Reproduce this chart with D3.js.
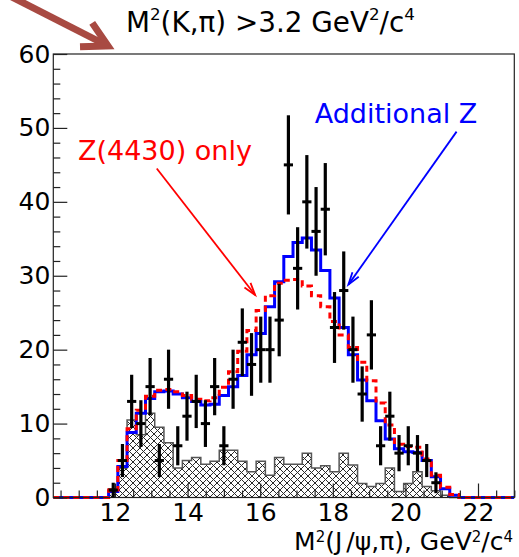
<!DOCTYPE html>
<html><head><meta charset="utf-8">
<script src="https://cdn.jsdelivr.net/npm/d3@7"></script>
<style>
body{margin:0;background:#fff}
svg{display:block;font-family:"DejaVu Sans",sans-serif}
</style>
</head><body>
<svg id="chart" width="519" height="557"></svg>
<script>
// Binning of M^2(J/psi,pi): 50 bins from 10.3 to 23.0 GeV^2/c^4
const xMin = 10.3, xMax = 23.0, nBins = 50;

// Observed events per bin
const dataCounts = [0,0,0,0,0,0,1,5,13,10,15,5,16,7,11,13,10,15,7,16,21,18,20,20,24,45,31,40,36,39,23,28,20,14,22,7,11,6,7,6,5,2,0,0,0,0,0,0,0,0];

// Fit with an additional Z state (blue, solid)
const fitAdditionalZ = [0,0,0,0,0,0,0.8,4.2,8.8,11.4,13.4,14.3,14.4,14.0,13.5,13.0,12.5,12.6,13.8,15.0,16.5,19.3,22.2,25.8,29.2,32.6,34.5,35.1,33.5,30.7,27.0,23.0,19.3,15.9,13.1,10.4,7.9,6.6,6.2,6.1,5.0,2.8,1.2,0.3,0,0,0,0,0,0];

// Fit with Z(4430) only (red, dashed)
const fitZ4430Only = [0,0,0,0,0,0,1.0,5.0,9.3,11.8,13.7,14.5,14.6,14.3,13.8,13.3,13.1,13.5,14.9,17.0,19.8,22.6,25.3,27.3,29.0,29.4,29.5,28.6,27.3,25.8,23.8,22.0,20.3,18.3,15.8,12.8,9.8,7.2,6.9,6.8,5.2,3.0,1.4,0.4,0,0,0,0,0,0];

// Background estimate (hatched)
const background = [0,0,0,0,0,0,1.2,4.0,10.5,8.5,11.4,9.5,7.4,4.0,5.0,5.4,4.5,4.9,6.4,6.4,4.9,3.5,4.9,3.0,5.4,4.5,4.5,6.0,4.0,4.3,3.5,6.0,4.4,1.9,1.5,1.9,4.0,0.8,1.9,3.5,1.5,0.9,0.3,0,0,0,0,0,0,0];

const xMajorTicks = [12,14,16,18,20,22];
const yMajorTicks = [0,10,20,30,40,50,60];

const svg = d3.select("#chart");
const frame = {left: 53.3, right: 514.3, top: 54, bottom: 497.5};
const x = d3.scaleLinear([xMin, xMax], [frame.left, frame.right]);
const y = d3.scaleLinear([0, 60], [frame.bottom, frame.top]);
const binW = (xMax - xMin) / nBins;
const edge = k => xMin + k * binW;

// cross-hatch pattern for the background histogram
const defs = svg.append("defs");
const pat = defs.append("pattern").attr("id", "xhatch")
  .attr("patternUnits", "userSpaceOnUse").attr("width", 7).attr("height", 7);
pat.append("rect").attr("width", 7).attr("height", 7).attr("fill", "#fff");
pat.append("path").attr("d", "M0,0L7,7M0,7L7,0M-1,1L1,-1M6,8L8,6M-1,6L1,8M6,-1L8,1")
  .attr("stroke", "#2a2a2a").attr("stroke-width", 1);

// step outline points of a histogram
const steps = vals => vals.flatMap((v, k) => [[edge(k), v], [edge(k + 1), v]]);

const clip = defs.append("clipPath").attr("id", "plotclip");
clip.append("rect").attr("x", frame.left).attr("y", frame.top - 2)
  .attr("width", frame.right - frame.left).attr("height", frame.bottom - frame.top + 4);

const plot = svg.append("g").attr("clip-path", "url(#plotclip)");

// background histogram
plot.append("path")
  .datum(steps(background))
  .attr("d", d3.area().x(d => x(d[0])).y0(y(0)).y1(d => y(d[1])))
  .attr("fill", "url(#xhatch)");
plot.append("path")
  .datum(steps(background))
  .attr("d", d3.line().x(d => x(d[0])).y(d => y(d[1])))
  .attr("fill", "none").attr("stroke", "#555").attr("stroke-width", 1.5);

// frame
svg.append("rect")
  .attr("x", frame.left).attr("y", frame.top)
  .attr("width", frame.right - frame.left).attr("height", frame.bottom - frame.top)
  .attr("fill", "none").attr("stroke", "#222").attr("stroke-width", 1.2);

// axes with inward ticks
const yAxis = d3.axisLeft(y).tickValues(yMajorTicks).tickSize(-14).tickSizeOuter(0).tickPadding(3).tickFormat(d3.format("d"));
const yMinor = d3.axisLeft(y).tickValues(d3.range(0, 61, 2).filter(v => v % 10)).tickSize(-7).tickSizeOuter(0).tickFormat("");
const xAxis = d3.axisBottom(x).tickValues(xMajorTicks).tickSize(-14).tickSizeOuter(0).tickPadding(6).tickFormat(d3.format("d"));
const xMinor = d3.axisBottom(x).tickValues(d3.range(10.5, 23.01, 0.5).filter(v => !xMajorTicks.includes(v))).tickSize(-7).tickSizeOuter(0).tickFormat("");

function styleAxis(g) {
  g.select(".domain").remove();
  g.selectAll(".tick line").attr("stroke", "#222").attr("stroke-width", 1.2);
  g.selectAll(".tick text").attr("font-size", 25).attr("fill", "#000")
    .attr("font-family", "DejaVu Sans");
}
svg.append("g").attr("transform", `translate(${frame.left},0)`).call(yAxis).call(styleAxis);
svg.append("g").attr("transform", `translate(${frame.left},0)`).call(yMinor).call(styleAxis);
svg.append("g").attr("transform", `translate(0,${frame.bottom})`).call(xAxis).call(styleAxis);
svg.append("g").attr("transform", `translate(0,${frame.bottom})`).call(xMinor).call(styleAxis);

// fit curves
const stepLine = d3.line().x(d => x(d[0])).y(d => y(d[1]));
plot.append("path").datum(steps(fitAdditionalZ)).attr("d", stepLine)
  .attr("fill", "none").attr("stroke", "#0000ff").attr("stroke-width", 3);
plot.append("path").datum(steps(fitZ4430Only)).attr("d", stepLine)
  .attr("fill", "none").attr("stroke", "#ff0000").attr("stroke-width", 3)
  .attr("stroke-dasharray", "6,4");

// data points with Poisson error bars
const pts = dataCounts.map((n, k) => ({k, n})).filter(d => d.n > 0);
const gPts = svg.append("g").attr("stroke", "#000");
gPts.selectAll("line.v").data(pts).join("line").attr("class", "v")
  .attr("x1", d => x(edge(d.k) + binW / 2)).attr("x2", d => x(edge(d.k) + binW / 2))
  .attr("y1", d => y(d.n - Math.sqrt(d.n))).attr("y2", d => y(d.n + Math.sqrt(d.n)))
  .attr("stroke-width", 3.2);
gPts.selectAll("line.h").data(pts).join("line").attr("class", "h")
  .attr("x1", d => x(edge(d.k))).attr("x2", d => x(edge(d.k + 1)))
  .attr("y1", d => y(d.n)).attr("y2", d => y(d.n))
  .attr("stroke-width", 3);

// labelled arrows
function arrow(g, x1, y1, x2, y2, color, width, headLen, headAng) {
  const a = Math.atan2(y1 - y2, x1 - x2);
  g.append("line").attr("x1", x1).attr("y1", y1).attr("x2", x2).attr("y2", y2)
    .attr("stroke", color).attr("stroke-width", width);
  g.append("path")
    .attr("d", `M${x2 + headLen * Math.cos(a + headAng)},${y2 + headLen * Math.sin(a + headAng)}L${x2},${y2}L${x2 + headLen * Math.cos(a - headAng)},${y2 + headLen * Math.sin(a - headAng)}`)
    .attr("fill", "none").attr("stroke", color).attr("stroke-width", width)
    .attr("stroke-linejoin", "miter");
}
const ann = svg.append("g");
ann.append("text").attr("x", x(10.98)).attr("y", y(45.7)).attr("fill", "#ff0000")
  .attr("font-size", 27).text("Z(4430) only");
arrow(ann, x(13.15), y(44.5), x(15.86), y(27.4), "#ff0000", 1.8, 13, 0.3);
ann.append("text").attr("x", x(17.5)).attr("y", y(50.7)).attr("fill", "#0000ff")
  .attr("font-size", 27).text("Additional Z");
arrow(ann, x(21.41), y(49.5), x(18.43), y(28.8), "#0000ff", 1.8, 13, 0.3);

// pointer arrow at the top-left corner
arrow(svg.append("g"), 6, -6, 108, 46, "#a84a42", 7, 28, 0.5);

// titles
function supText(t, parts, fs, raise) {
  parts.forEach(p => {
    if (p.sup) t.append("tspan").attr("font-size", fs * 0.6).attr("dy", -fs * raise).text(p.s);
    else t.append("tspan").attr("font-size", fs).attr("dy", p.back ? fs * raise : 0).attr("dx", p.dx || 0).text(p.s);
  });
}
const title = svg.append("text").attr("x", 126).attr("y", 32).attr("fill", "#000");
supText(title, [
  {s: "M"}, {s: "2", sup: true}, {s: "(K,\u03c0) >3.2 GeV", back: true},
  {s: "2", sup: true}, {s: "/c", back: true}, {s: "4", sup: true}
], 27.8, 0.42);

const xt = svg.append("text").attr("x", 513).attr("y", 550).attr("text-anchor", "end").attr("fill", "#000");
supText(xt, [
  {s: "M"}, {s: "2", sup: true}, {s: "(J", back: true}, {s: "/\u03c8,\u03c0), GeV", dx: 4},
  {s: "2", sup: true}, {s: "/c", back: true}, {s: "4", sup: true}
], 25, 0.34);
</script>
</body></html>
